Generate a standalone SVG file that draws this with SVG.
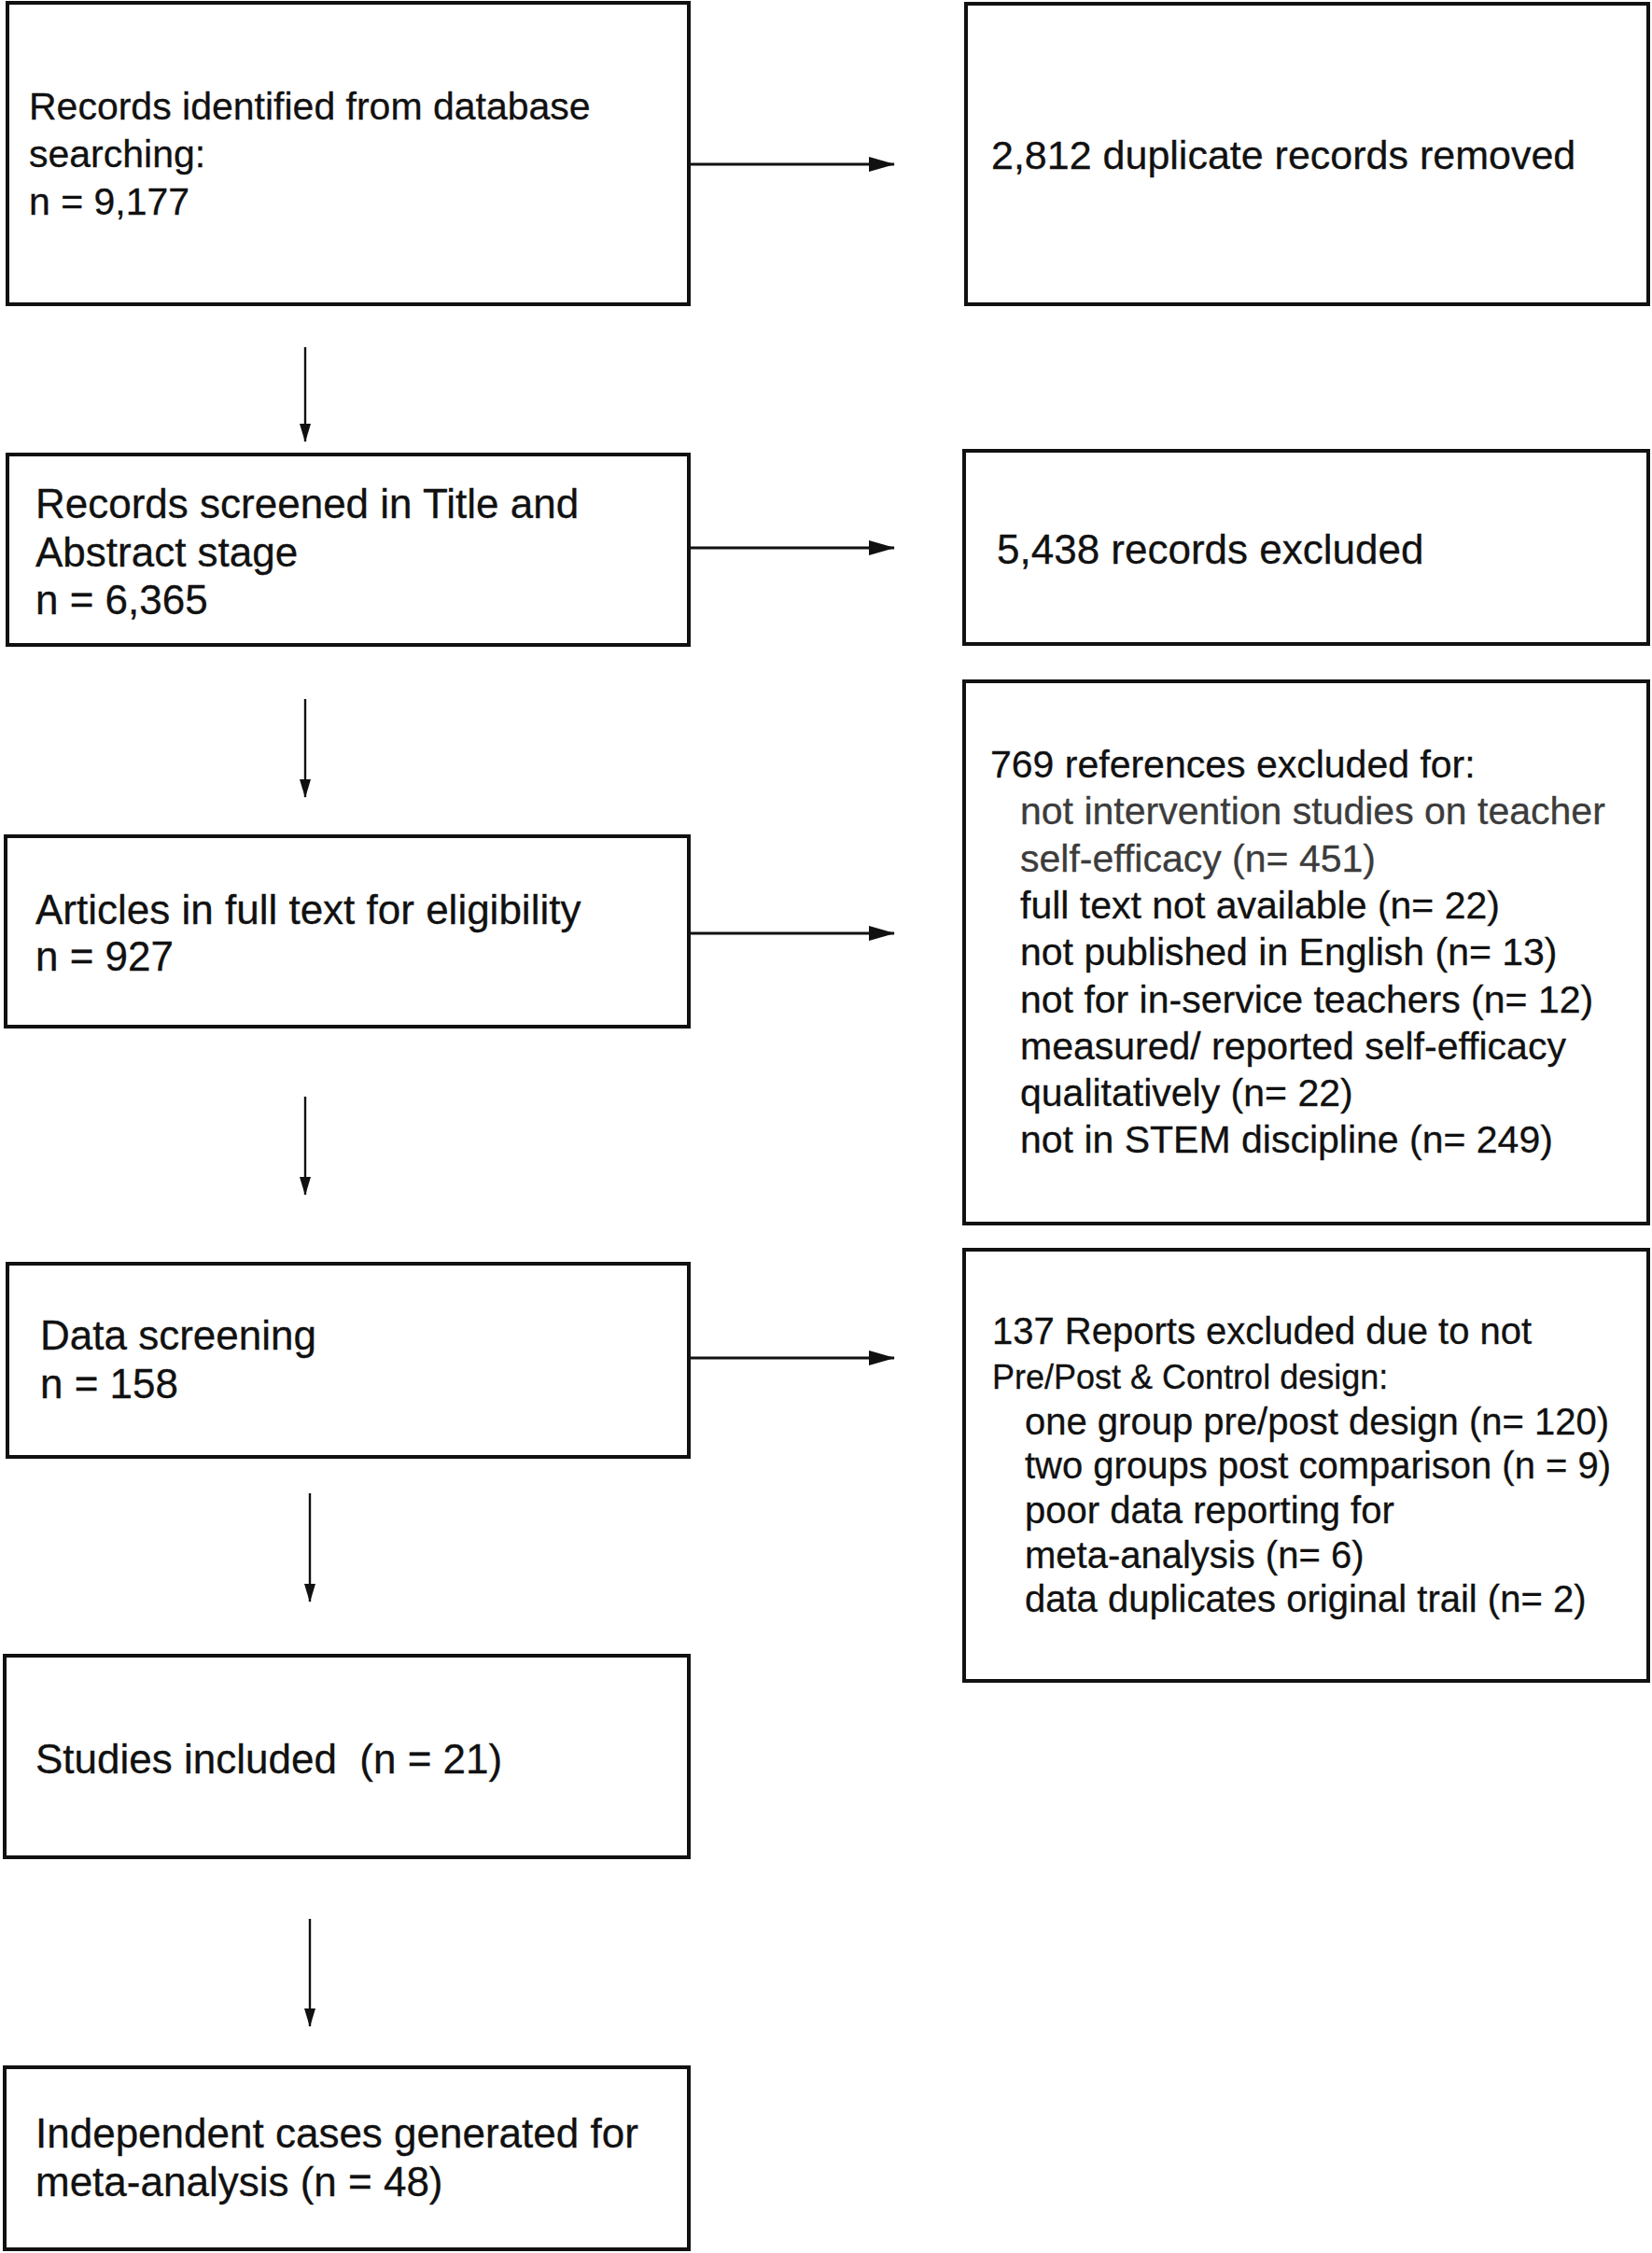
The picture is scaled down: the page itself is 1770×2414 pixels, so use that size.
<svg xmlns="http://www.w3.org/2000/svg" width="1770" height="2414" viewBox="0 0 1770 2414">
<style>
.box{fill:#fff;stroke:#111;stroke-width:4}
text{font-family:"Liberation Sans",Arial,Helvetica,sans-serif;fill:#111;stroke:#111;stroke-width:0.3}
.t44{font-size:44px}
.t43{font-size:43px}
.t41{font-size:41px}
.t40{font-size:40px}
.t36{font-size:36px}
.grey{fill:#3c3c3c;stroke:#3c3c3c}
.ch{stroke:#111;stroke-width:3.2;fill:none}
.cv{stroke:#111;stroke-width:2.4;fill:none}
</style>
<defs>
<marker id="ah" viewBox="0 0 28 16" refX="27" refY="8" markerWidth="28" markerHeight="16" markerUnits="userSpaceOnUse" orient="auto">
<path d="M0,0 L28,8 L0,16 z" fill="#111"/>
</marker>
<marker id="av" viewBox="0 0 20 12" refX="19" refY="6" markerWidth="20" markerHeight="12" markerUnits="userSpaceOnUse" orient="auto">
<path d="M0,0 L20,6 L0,12 z" fill="#111"/>
</marker>
</defs>
<rect width="1770" height="2414" fill="#fff"/>
<g id="connectors">
<line class="ch" x1="738" y1="176" x2="958" y2="176" marker-end="url(#ah)"/>
<line class="ch" x1="738" y1="587" x2="958" y2="587" marker-end="url(#ah)"/>
<line class="ch" x1="738" y1="1000" x2="958" y2="1000" marker-end="url(#ah)"/>
<line class="ch" x1="738" y1="1455" x2="958" y2="1455" marker-end="url(#ah)"/>
<line class="cv" x1="327" y1="372" x2="327" y2="473" marker-end="url(#av)"/>
<line class="cv" x1="327" y1="749" x2="327" y2="854" marker-end="url(#av)"/>
<line class="cv" x1="327" y1="1175" x2="327" y2="1280" marker-end="url(#av)"/>
<line class="cv" x1="332" y1="1600" x2="332" y2="1716" marker-end="url(#av)"/>
<line class="cv" x1="332" y1="2056" x2="332" y2="2171" marker-end="url(#av)"/>
</g>
<g id="identified">
<rect class="box" x="8" y="3" width="730" height="323"/>
<text class="t41" x="31" y="128">Records identified from database</text>
<text class="t41" x="31" y="179">searching:</text>
<text class="t41" x="31" y="230">n = 9,177</text>
</g>
<g id="duplicates">
<rect class="box" x="1035" y="4" width="731" height="322"/>
<text class="t43" x="1062" y="181">2,812 duplicate records removed</text>
</g>
<g id="screened">
<rect class="box" x="8" y="487" width="730" height="204"/>
<text class="t44" x="38" y="555">Records screened in Title and</text>
<text class="t44" x="38" y="607">Abstract stage</text>
<text class="t44" x="38" y="658">n = 6,365</text>
</g>
<g id="excluded-records">
<rect class="box" x="1033" y="483" width="733" height="207"/>
<text class="t44" x="1068" y="604">5,438 records excluded</text>
</g>
<g id="fulltext">
<rect class="box" x="6" y="896" width="732" height="204"/>
<text class="t44" x="38" y="990">Articles in full text for eligibility</text>
<text class="t44" x="38" y="1040">n = 927</text>
</g>
<g id="excluded-references">
<rect class="box" x="1033" y="730" width="733" height="581"/>
<text class="t41" x="1061" y="833">769 references excluded for:</text>
<text class="t41 grey" x="1093" y="883">not intervention studies on teacher</text>
<text class="t41 grey" x="1093" y="934">self-efficacy (n= 451)</text>
<text class="t41" x="1093" y="984">full text not available (n= 22)</text>
<text class="t41" x="1093" y="1034">not published in English (n= 13)</text>
<text class="t41" x="1093" y="1085">not for in-service teachers (n= 12)</text>
<text class="t41" x="1093" y="1135">measured/ reported self-efficacy</text>
<text class="t41" x="1093" y="1185">qualitatively (n= 22)</text>
<text class="t41" x="1093" y="1235">not in STEM discipline (n= 249)</text>
</g>
<g id="datascreening">
<rect class="box" x="8" y="1354" width="730" height="207"/>
<text class="t44" x="43" y="1446">Data screening</text>
<text class="t44" x="43" y="1498">n = 158</text>
</g>
<g id="excluded-reports">
<rect class="box" x="1033" y="1339" width="733" height="462"/>
<text class="t40" x="1063" y="1440">137 Reports excluded due to not</text>
<text class="t36" x="1063" y="1488">Pre/Post &amp; Control design:</text>
<text class="t40" x="1098" y="1537">one group pre/post design (n= 120)</text>
<text class="t40" x="1098" y="1584">two groups post comparison (n = 9)</text>
<text class="t40" x="1098" y="1632">poor data reporting for</text>
<text class="t40" x="1098" y="1680">meta-analysis (n= 6)</text>
<text class="t40" x="1098" y="1727">data duplicates original trail (n= 2)</text>
</g>
<g id="included">
<rect class="box" x="5" y="1774" width="733" height="216"/>
<text class="t44" x="38" y="1900">Studies included &#160;(n = 21)</text>
</g>
<g id="cases">
<rect class="box" x="5" y="2215" width="733" height="195"/>
<text class="t44" x="38" y="2301">Independent cases generated for</text>
<text class="t44" x="38" y="2353">meta-analysis (n = 48)</text>
</g>
</svg>
